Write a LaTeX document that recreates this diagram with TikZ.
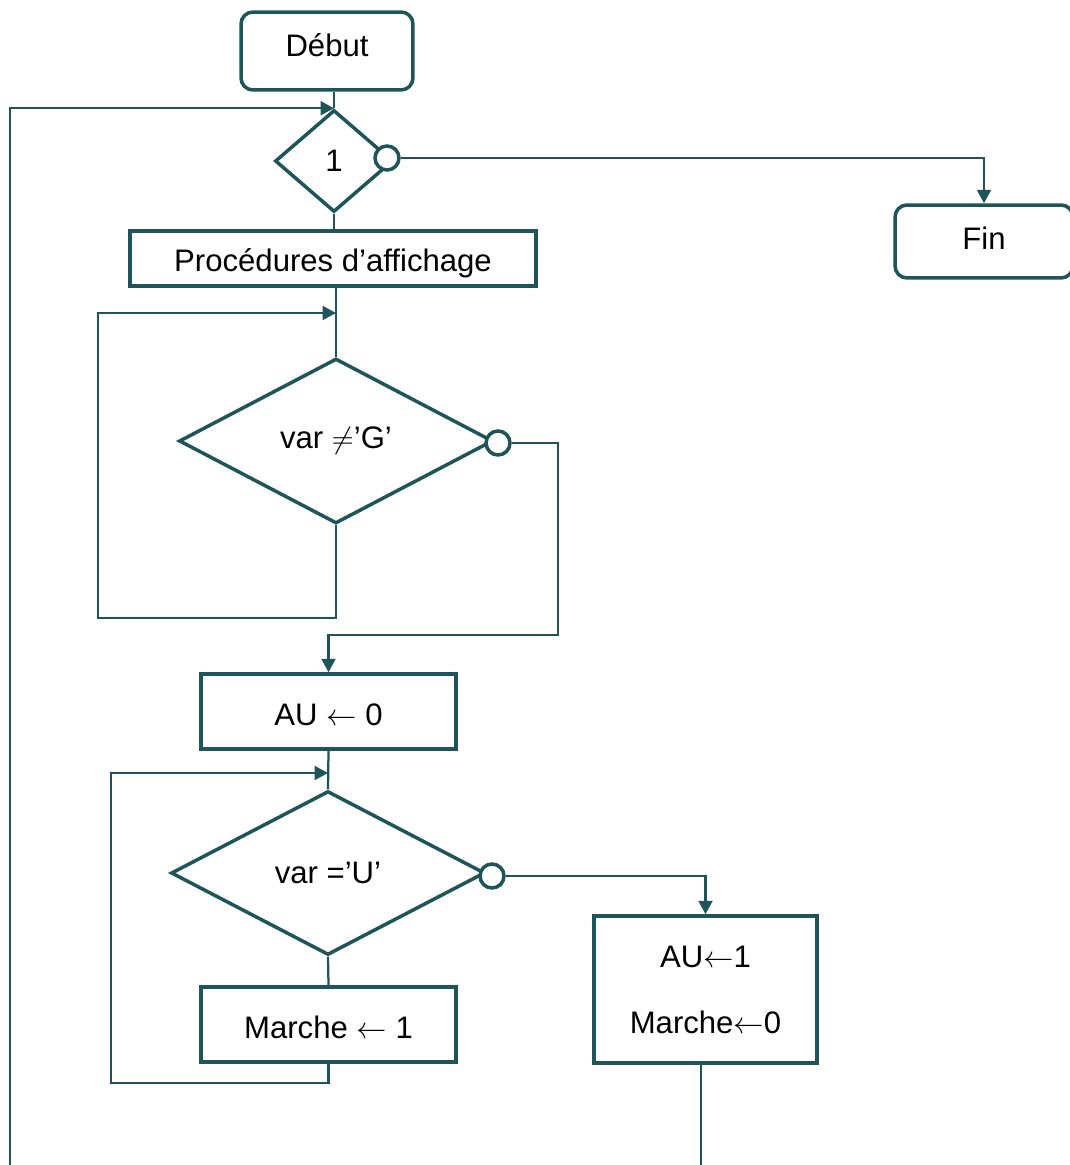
\documentclass[tikz,border=0pt]{standalone}
\usepackage{fontspec}
\setmainfont{Liberation Sans}
\usetikzlibrary{shapes.geometric,arrows.meta}
\definecolor{teal1}{RGB}{30,84,90}
\tikzset{
  box/.style={draw=teal1, line width=0.07cm, rectangle, inner sep=0pt, align=center, font=\fontsize{17.7}{20}\selectfont},
  rbox/.style={box, rounded corners=0.24cm},
  dec/.style={draw=teal1, line width=0.07cm, diamond, inner sep=0pt, font=\fontsize{17.7}{20}\selectfont},
  knob/.style={draw=teal1, line width=0.07cm, circle, fill=white, inner sep=0pt, minimum size=0.48cm},
  link/.style={draw=teal1, line width=0.045cm},
  arr/.style={link, -{Triangle[length=0.27cm,width=0.28cm]}}
}
\begin{document}
\begin{tikzpicture}[x=0.02cm, y=-0.02cm]
\useasboundingbox (0,0) rectangle (1069,1165);
% nodes
\node[rbox, minimum width=3.44cm, minimum height=1.56cm, text height=12pt, text depth=6.2pt] (deb) at (327,51) {Début};
\node[dec, minimum width=2.36cm, minimum height=2.04cm] (d1) at (334,161) {1};
\node[knob] (c1) at (387,158) {};
\node[rbox, minimum width=3.56cm, minimum height=1.46cm, text height=12pt, text depth=3.4pt] (fin) at (984,241.5) {Fin};
\node[box, minimum width=8.12cm, minimum height=1.1cm, text height=16pt, text depth=1.7pt] (proc) at (333,258.5) {Procédures d’affichage};
\node[dec, minimum width=6.28cm, minimum height=3.3cm] (d2) at (336,441) {var $\neq$’G’};
\node[knob] (c2) at (498,443) {};
\node[box, minimum width=5.1cm, minimum height=1.5cm, text height=17pt, text depth=1.6pt] (au0) at (328.5,711.5) {AU $\leftarrow$ 0};
\node[dec, minimum width=6.28cm, minimum height=3.28cm] (d3) at (328,873) {var =’U’};
\node[knob] (c3) at (492,876) {};
\node[box, minimum width=5.1cm, minimum height=1.5cm, text height=17pt, text depth=1.6pt] (m1) at (328.5,1024.5) {Marche $\leftarrow$ 1};
\node[box, minimum width=4.46cm, minimum height=2.94cm] (au1) at (705.5,989.5) {AU$\leftarrow$1\\[17.5pt]Marche$\leftarrow$0};
% coordinates
\coordinate (bl) at (10,1165);
\coordinate (l2a) at (98,618);
\coordinate (j2) at (336,313);
\coordinate (r2) at (558,635);
\coordinate (l3a) at (111,1083);
\coordinate (j3) at (328,773);
\coordinate (be) at (701,1165);
% connectors
\draw[link] (d1.north |- deb.south) -- (d1.north);
\draw[arr] (bl) |- (d1.north);
\draw[arr] (c1.east) -| (fin.north);
\draw[link] (d1.south) -- (d1.south |- proc.north);
\draw[link] (d2.north |- proc.south) -- (d2.north);
\draw[arr] (d2.south) |- (l2a) |- (j2);
\draw[arr] (c2.east) -| (r2) -| (au0.north);
\draw[link] (au0.south) -- (d3.north);
\draw[arr] (m1.south) |- (l3a) |- (j3);
\draw[link] (d3.south) -- (m1.north);
\draw[arr] (c3.east) -| (au1.north);
\draw[link] (be |- au1.south) -- (be);
\end{tikzpicture}
\end{document}
